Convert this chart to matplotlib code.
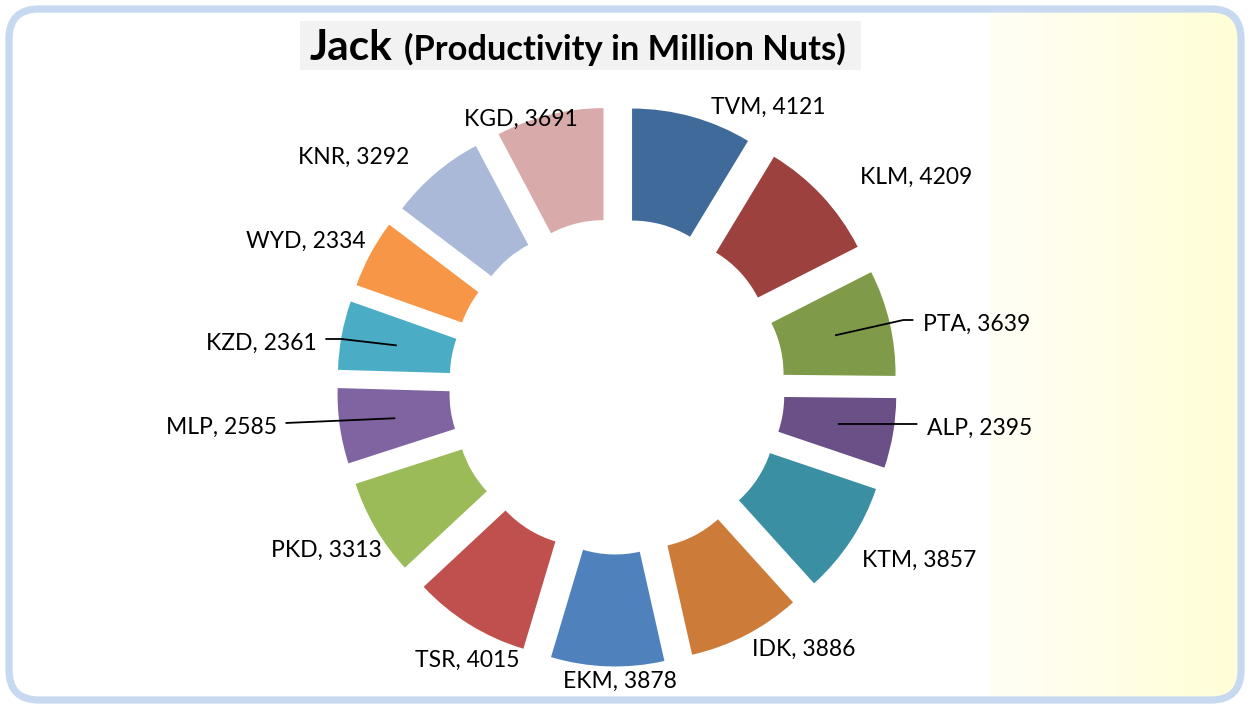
import numpy as np
import matplotlib
matplotlib.use("Agg")
import matplotlib.pyplot as plt
from matplotlib.patches import FancyBboxPatch, Rectangle

# ---- data -------------------------------------------------------------
districts = ["TVM", "KLM", "PTA", "ALP", "KTM", "IDK", "EKM",
             "TSR", "PKD", "MLP", "KZD", "WYD", "KNR", "KGD"]
production = [4121, 4209, 3639, 2395, 3857, 3886, 3878,
              4015, 3313, 2585, 2361, 2334, 3292, 3691]
slice_colors = ["#3F6A9A", "#9C413E", "#7F9A48", "#6A5087", "#3A8FA3",
                "#CC7B38", "#4F81BD", "#C0504D", "#9BBB59", "#8064A2",
                "#4BACC6", "#F79646", "#AAB9D7", "#D9AAAA"]

title_main = "Jack"
title_sub = "(Productivity in Million Nuts)"

# label text centres in canvas pixels (x right, y down)
label_centres = [(768, 106), (916, 176), (977, 323), (980, 427),
                 (919, 559), (804, 648), (620, 680), (467, 659),
                 (326, 549), (221, 426), (261, 342), (306, 240),
                 (354, 156), (521, 118)]
leader_labels = {"PTA", "ALP", "MLP", "KZD"}

# ---- canvas -----------------------------------------------------------
W, H = 1250, 705
FONT = "Lato"
fig = plt.figure(figsize=(W / 100, H / 100), dpi=100)
fig.patch.set_facecolor("white")

bg = fig.add_axes([0, 0, 1, 1])
bg.set_xlim(0, W)
bg.set_ylim(H, 0)
bg.axis("off")

frame = FancyBboxPatch((9, 9), W - 18, H - 14,
                       boxstyle="round,pad=0,rounding_size=30",
                       fill=False, ec="#C6D9F0", lw=5.2, zorder=5)
bg.add_patch(frame)

# pale yellow panel on the right
ramp = np.linspace(0, 1, 300)
c0 = np.array([255, 255, 246]) / 255
c1 = np.array([255, 254, 214]) / 255
grad = (c0[None, :] * (1 - ramp[:, None]) + c1[None, :] * ramp[:, None])
grad = np.repeat(grad[None, :, :], 2, axis=0)
img = bg.imshow(grad, extent=[990, 1240, 700, 10], aspect="auto",
                interpolation="bilinear", zorder=1)
clip = FancyBboxPatch((12, 12), W - 24, H - 20,
                      boxstyle="round,pad=0,rounding_size=27",
                      transform=bg.transData, fill=False, lw=0)
img.set_clip_path(clip)

# title with grey band
bg.add_patch(Rectangle((300, 21), 561, 49, fc="#F2F2F2", ec="none", zorder=2))
t1 = bg.text(310, 60, title_main, fontsize=30.5, fontweight="bold",
             family=FONT, ha="left", va="baseline", zorder=3)
renderer = fig.canvas.get_renderer()
bb = t1.get_window_extent(renderer=renderer)
bg.text(bb.x1 + 11, 60, title_sub, fontsize=24.8, fontweight="bold",
        family=FONT, ha="left", va="baseline", zorder=3)

# ---- doughnut ---------------------------------------------------------
ax = fig.add_axes([0, 0, 1, 1])
cx, cy = 617, H - 386.5
R_out, R_in = 224, 112
offset = 0.25 * R_out

wedges, _ = ax.pie(production, colors=slice_colors, startangle=90,
                   counterclock=False, radius=R_out, center=(cx, cy),
                   explode=[offset] * len(production),
                   wedgeprops=dict(width=R_out - R_in, linewidth=0))
ax.set_xlim(0, W)
ax.set_ylim(0, H)
ax.set_aspect("equal")
ax.axis("off")

label_size = 16.5
cap = 0.7165 * label_size * 100 / 72
for name, val, w, (lx, ly) in zip(districts, production, wedges, label_centres):
    txt = ax.text(lx, H - ly - cap / 2, f"{name}, {val}", fontsize=label_size,
                  family=FONT, ha="center", va="baseline", zorder=10)
    if name in leader_labels:
        tb = txt.get_window_extent(renderer=renderer)
        mid = np.deg2rad((w.theta1 + w.theta2) / 2)
        wx, wy = w.center
        rm = R_out - (R_out - R_in) / 2
        px, py = wx + rm * np.cos(mid), wy + rm * np.sin(mid)
        ey = H - ly + 3
        if lx > cx:
            ex = tb.x0 - 10
            elbow = ex - 10
        else:
            ex = tb.x1 + 9
            elbow = ex + 16
        if abs(py - ey) < 6:
            elbow = ex
        ax.plot([px, elbow, ex], [py, ey, ey], color="black", lw=1.3,
                solid_capstyle="butt", zorder=9)

fig.savefig("out.png", dpi=100, facecolor="white")
